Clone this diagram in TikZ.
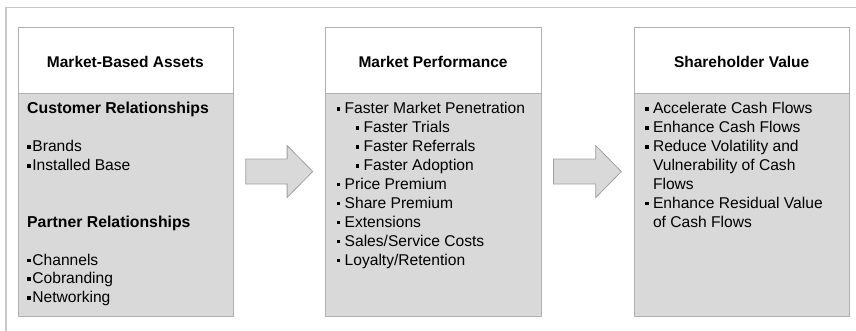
\documentclass[tikz,border=0pt]{standalone}
\usepackage{fontspec}
\setmainfont{Liberation Sans}
\usetikzlibrary{positioning,calc}

\definecolor{panelgray}{HTML}{D9D9D9}
\definecolor{rimgray}{HTML}{B0B0B0}
\definecolor{arrowrim}{HTML}{A0A0A0}
\definecolor{framegray}{HTML}{C8C8C8}

\newcommand{\sqb}[1][7.8pt]{\makebox[#1][l]{\raisebox{3pt}{\rule{3.5pt}{3.5pt}}}}
\newcommand{\subsqb}{\hspace*{19pt}\sqb}
\newcommand{\cont}{\hspace*{7.8pt}}

% block arrow from one panel to the next
\newcommand{\flowarrow}[2]{%
  \draw[blockarrow] ($(#1.east)+(12.5,-12.5)$) -- ($(#2.west)+(-38.1,-12.5)$)
    -- ($(#2.west)+(-38.1,-26)$) -- ($(#2.west)+(-12.5,0)$)
    -- ($(#2.west)+(-38.1,26)$) -- ($(#2.west)+(-38.1,12.5)$)
    -- ($(#1.east)+(12.5,12.5)$) -- cycle;}

\tikzset{
  panel/.style={draw=rimgray, fill=panelgray, minimum width=215.3pt,
    minimum height=289.3pt, inner sep=0pt, anchor=north west},
  headbox/.style={draw=rimgray, fill=white, minimum width=215.3pt,
    minimum height=66pt, inner sep=0pt, anchor=north},
  title/.style={font=\fontsize{15.5}{19}\selectfont\bfseries, inner sep=0pt, anchor=base},
  listtext/.style={font=\fontsize{15.6}{18.9}\selectfont, inner sep=0pt, anchor=base west},
  blockarrow/.style={draw=arrowrim, fill=panelgray, line width=0.8pt},
}

\begin{document}
\begin{tikzpicture}[x=1pt,y=-1pt]
    \useasboundingbox (0,0) rectangle (856,331);
    \draw[framegray, line width=1.4pt] (6,331) -- (6,7.3) -- (856,7.3);

    \node[panel] (assets) at (17.5,26.7) {};
    \node[panel] (perf) at (325.2,26.7) {};
    \node[panel] (value) at (633.8,26.7) {};

    \node[headbox] (assetsHead) at (assets.north) {};
    \node[headbox] (perfHead) at (perf.north) {};
    \node[headbox] (valueHead) at (value.north) {};

    \node[title] (assetsTitle) at ($(assetsHead.center)+(0,8)$) {Market-Based Assets};
    \node[title] (perfTitle) at ($(perfHead.center)+(0,8)$) {Market Performance};
    \node[title] (valueTitle) at ($(valueHead.center)+(0,8)$) {Shareholder Value};

    \node[listtext] (assetsList) at ($(assets.north west)+(9.5,87.2)$) {\parbox[t]{200pt}{%
        {\fontsize{15.8}{18.9}\selectfont\bfseries Customer Relationships}\\[18.9pt]
        \sqb[5.2pt]Brands\\
        \sqb[5.2pt]Installed Base\\[37.8pt]
        {\fontsize{15.8}{18.9}\selectfont\bfseries Partner Relationships}\\[18.9pt]
        \sqb[5.2pt]Channels\\
        \sqb[5.2pt]Cobranding\\
        \sqb[5.2pt]Networking}};

    \node[listtext] (perfList) at ($(perf.north west)+(11.5,87.2)$) {\parbox[t]{200pt}{%
        \sqb Faster Market Penetration\\
        \subsqb Faster Trials\\
        \subsqb Faster Referrals\\
        \subsqb Faster Adoption\\
        \sqb Price Premium\\
        \sqb Share Premium\\
        \sqb Extensions\\
        \sqb Sales/Service Costs\\
        \sqb Loyalty/Retention}};

    \node[listtext] (valueList) at ($(value.north west)+(11.2,87.2)$) {\parbox[t]{200pt}{%
        \sqb Accelerate Cash Flows\\
        \sqb Enhance Cash Flows\\
        \sqb Reduce Volatility and\\
        \cont Vulnerability of Cash\\
        \cont Flows\\
        \sqb Enhance Residual Value\\
        \cont of Cash Flows}};

    \flowarrow{assets}{perf}
    \flowarrow{perf}{value}
\end{tikzpicture}
\end{document}
